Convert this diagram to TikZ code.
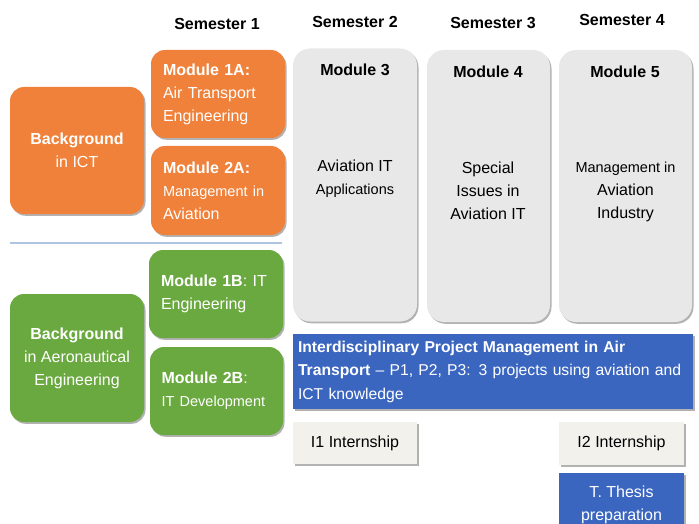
\documentclass[tikz,border=0pt]{standalone}
\usepackage{fontspec}
\setmainfont{Liberation Sans}
\usetikzlibrary{shadows}
\definecolor{orgc}{HTML}{F0813A}
\definecolor{grnc}{HTML}{6AA93F}
\definecolor{bluc}{HTML}{3B66C0}
\definecolor{grayc}{HTML}{E8E8E8}
\definecolor{intc}{HTML}{F2F1EC}
\definecolor{sepc}{HTML}{AFC4E0}
\tikzset{
  shad/.style={drop shadow={shadow xshift=1.5pt, shadow yshift=-1.8pt, opacity=0.3, fill=black}},
  colbox/.style={shad, rounded corners=14pt, inner sep=0pt, text=white, font=\fontsize{16}{23}\selectfont},
  orbox/.style={colbox, fill=orgc},
  grbox/.style={colbox, fill=grnc},
  modbox/.style={shad, rounded corners=17pt, fill=grayc, inner sep=0pt},
  sqbox/.style={shad, inner sep=0pt, font=\fontsize{16}{23}\selectfont},
  semlbl/.style={font=\bfseries\fontsize{16}{19}\selectfont, text=black},
  modtitle/.style={font=\bfseries\fontsize{16}{19}\selectfont, text=black},
  modbody/.style={align=center, text=black, font=\fontsize{16}{23}\selectfont},
  sepline/.style={draw=sepc, line width=1.6pt}
}
\begin{document}
\begin{tikzpicture}[x=1pt,y=-1pt]
\useasboundingbox (0,0) rectangle (699,524);
% semester headings
\node[semlbl] (s1) at (217,24) {Semester 1};
\node[semlbl] (s2) at (355,22) {Semester 2};
\node[semlbl] (s3) at (493,23) {Semester 3};
\node[semlbl] (s4) at (622,20) {Semester 4};
% background boxes
\node[orbox, minimum width=134pt, minimum height=127pt, align=center] (bict) at (77,150.5)
  {\textbf{Background}\\in ICT};
\node[grbox, minimum width=134pt, minimum height=128pt, align=center] (baero) at (77,358)
  {\textbf{Background}\\in Aeronautical\\Engineering};
% semester 1 modules
\node[orbox, minimum width=134pt, minimum height=88pt, text width=110pt, align=left] (m1a) at (218,94)
  {\textbf{Module 1A:}\\Air Transport\\Engineering};
\node[orbox, minimum width=134pt, minimum height=89pt, text width=110pt, align=left] (m2a) at (218,190.5)
  {\textbf{Module 2A:}\\{\fontsize{14.5}{23}\selectfont Management in}\\Aviation};
\node[grbox, minimum width=134pt, minimum height=88pt, text width=110pt, align=left] (m1b) at (216,294)
  {\textbf{Module 1B}: IT\\Engineering};
\node[grbox, minimum width=133pt, minimum height=88pt, text width=110pt, align=left] (m2b) at (216.5,391)
  {\textbf{Module 2B}:\\{\fontsize{14.5}{23}\selectfont IT Development}};
% separator
\coordinate (sa) at (10,243);
\coordinate (sb) at (282,243);
\draw[sepline] (sa) -- (sb);
% modules 3-5
\node[modbox, minimum width=124pt, minimum height=273pt] (m3) at (355,185) {};
\node[modbox, minimum width=123pt, minimum height=272pt] (m4) at (488.5,186) {};
\node[modbox, minimum width=133pt, minimum height=272pt] (m5) at (625.5,186) {};
\node[modtitle] (m3t) at (355,70) {Module 3};
\node[modtitle] (m4t) at (488,72) {Module 4};
\node[modtitle] (m5t) at (625,72) {Module 5};
\node[modbody] (m3b) at (355,179) {Aviation IT\\{\fontsize{14.5}{22}\selectfont Applications}};
\node[modbody] (m4b) at (488,191) {Special\\Issues in\\Aviation IT};
\node[modbody] (m5b) at (625.5,192) {{\fontsize{14.5}{23}\selectfont Management in}\\Aviation\\Industry};
% project bar
\node[sqbox, fill=bluc, text=white, minimum width=400pt, minimum height=75pt, text width=390pt, align=left,
  font=\fontsize{15.7}{23.5}\selectfont] (proj) at (493,371.5)
  {\textbf{Interdisciplinary Project Management in Air}\\\textbf{Transport} -- P1, P2, P3: 3 projects using aviation and\\ICT knowledge};
% internships and thesis
\node[sqbox, fill=intc, text=black, minimum width=124pt, minimum height=42pt] (i1) at (355,443) {I1 Internship};
\node[sqbox, fill=intc, text=black, minimum width=125pt, minimum height=43pt] (i2) at (621.5,443.5) {I2 Internship};
\node[sqbox, fill=bluc, text=white, minimum width=125pt, minimum height=64pt, align=center, anchor=north] (th) at (621.5,473)
  {T. Thesis\\preparation};
\end{tikzpicture}
\end{document}
